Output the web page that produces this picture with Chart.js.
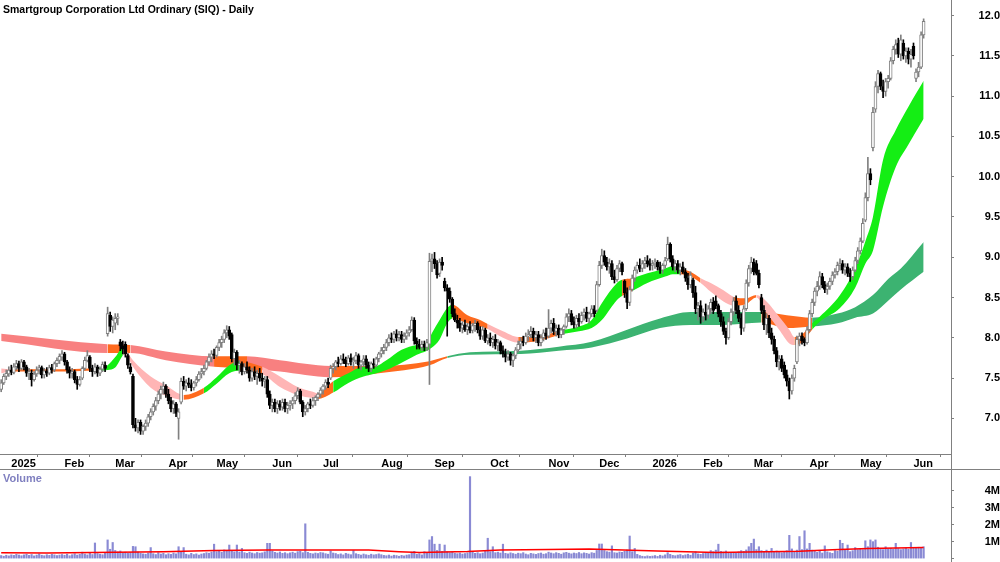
<!DOCTYPE html>
<html>
<head>
<meta charset="utf-8">
<script src="https://cdn.jsdelivr.net/npm/chart.js@4.4.1/dist/chart.umd.min.js"></script>
<style>
    body { margin: 0; background: #fff; }
    #wrap { position: relative; width: 1000px; height: 562px; }
    canvas { position: absolute; left: 0; }
    #price { top: 0; }
    #vol { top: 470px; }
</style>
</head>
<body>
<div id="wrap">
    <canvas id="price" width="1000" height="470"></canvas>
    <canvas id="vol" width="1000" height="92"></canvas>
</div>
<script>
const title = 'Smartgroup Corporation Ltd Ordinary (SIQ) - Daily';

// first trading day of each month (bar index) and its axis label
const monthLabels = ['2025', 'Feb', 'Mar', 'Apr', 'May', 'Jun', 'Jul', 'Aug', 'Sep', 'Oct', 'Nov', 'Dec',
    '2026', 'Feb', 'Mar', 'Apr', 'May', 'Jun'];
const monthStart = [4, 25, 45, 66, 85, 107, 127, 150, 171, 193, 216, 236, 257, 277, 297, 319, 339, 360];
const priceTicks = [7.0, 7.5, 8.0, 8.5, 9.0, 9.5, 10.0, 10.5, 11.0, 11.5, 12.0];
const volumeTicks = [0, 1, 2, 3, 4];

// daily bars: [open, high, low, close]
const ohlc = [
    // Dec 2024
    [7.36,7.48,7.33,7.44],[7.44,7.55,7.42,7.52],[7.52,7.60,7.48,7.56],[7.55,7.64,7.52,7.60],
    // Jan 2025
    [7.60,7.66,7.54,7.57],[7.57,7.68,7.55,7.64],[7.64,7.72,7.60,7.68],[7.68,7.71,7.58,7.62],[7.62,7.73,7.60,7.70],
    [7.70,7.72,7.60,7.64],[7.64,7.66,7.52,7.56],[7.56,7.62,7.48,7.58],[7.56,7.60,7.40,7.48],[7.48,7.58,7.46,7.55],
    [7.55,7.64,7.52,7.60],[7.60,7.66,7.55,7.63],[7.63,7.65,7.50,7.54],[7.54,7.62,7.50,7.59],[7.59,7.63,7.52,7.56],
    [7.56,7.66,7.54,7.63],[7.63,7.67,7.56,7.60],[7.60,7.70,7.58,7.68],[7.68,7.75,7.64,7.72],[7.72,7.80,7.68,7.77],
    [7.76,7.84,7.72,7.80],
    // Feb
    [7.80,7.82,7.66,7.70],[7.70,7.72,7.56,7.60],[7.60,7.64,7.50,7.56],[7.56,7.62,7.50,7.58],[7.58,7.60,7.44,7.48],
    [7.48,7.52,7.36,7.42],[7.42,7.52,7.40,7.48],[7.50,7.64,7.48,7.62],[7.62,7.76,7.60,7.72],[7.72,7.84,7.70,7.78],
    [7.76,7.78,7.58,7.62],[7.62,7.66,7.52,7.58],[7.58,7.68,7.55,7.64],[7.64,7.66,7.52,7.56],[7.56,7.64,7.53,7.61],
    [7.61,7.70,7.58,7.67],[7.66,7.70,7.58,7.62],[8.05,8.38,8.02,8.30],[8.28,8.32,8.08,8.14],[8.14,8.26,8.06,8.22],
    // Mar
    [8.18,8.30,8.10,8.24],[8.24,8.30,8.16,8.26],[7.95,7.98,7.84,7.90],[7.90,7.96,7.80,7.86],[7.92,7.95,7.76,7.80],
    [7.78,7.80,7.62,7.66],[7.64,7.68,7.55,7.58],[7.52,7.55,6.88,6.92],[6.92,7.00,6.84,6.88],[6.88,6.98,6.82,6.95],
    [6.95,6.98,6.80,6.84],[6.84,6.92,6.80,6.90],[6.90,6.98,6.85,6.94],[6.94,7.05,6.90,7.02],[7.02,7.12,6.98,7.08],
    [7.08,7.18,7.04,7.15],[7.15,7.26,7.10,7.22],[7.22,7.34,7.18,7.30],[7.30,7.40,7.24,7.36],[7.36,7.45,7.30,7.40],
    [7.40,7.42,7.26,7.30],
    // Apr
    [7.30,7.36,7.18,7.22],[7.22,7.26,7.08,7.12],[7.12,7.22,7.06,7.18],[7.18,7.20,7.02,7.06],[7.00,7.12,6.74,7.08],
    [7.20,7.50,7.18,7.46],[7.46,7.52,7.36,7.40],[7.40,7.48,7.34,7.44],[7.44,7.50,7.38,7.42],[7.42,7.48,7.34,7.38],
    [7.38,7.46,7.35,7.44],[7.44,7.52,7.40,7.48],[7.48,7.58,7.46,7.55],[7.55,7.62,7.50,7.58],[7.58,7.66,7.54,7.62],
    [7.62,7.72,7.60,7.70],[7.70,7.80,7.66,7.76],[7.76,7.84,7.70,7.80],[7.80,7.86,7.74,7.78],
    // May
    [7.78,7.90,7.76,7.88],[7.88,7.98,7.84,7.94],[7.94,8.02,7.88,7.98],[7.98,8.10,7.94,8.06],[8.06,8.15,8.00,8.10],
    [8.10,8.14,7.98,8.02],[8.04,8.06,7.70,7.74],[7.74,7.86,7.66,7.82],[7.82,7.84,7.60,7.66],[7.66,7.72,7.56,7.68],
    [7.68,7.70,7.54,7.58],[7.58,7.68,7.55,7.64],[7.64,7.70,7.56,7.60],[7.60,7.64,7.46,7.50],[7.50,7.62,7.46,7.58],
    [7.58,7.64,7.48,7.52],[7.52,7.60,7.42,7.56],[7.56,7.62,7.46,7.50],[7.50,7.56,7.40,7.46],[7.46,7.52,7.38,7.48],
    [7.48,7.52,7.26,7.30],[7.30,7.34,7.12,7.16],
    // Jun
    [7.16,7.24,7.08,7.20],[7.20,7.24,7.08,7.12],[7.12,7.22,7.06,7.18],[7.18,7.22,7.10,7.14],[7.14,7.24,7.10,7.20],
    [7.20,7.24,7.08,7.12],[7.12,7.20,7.06,7.16],[7.16,7.22,7.10,7.18],[7.18,7.26,7.12,7.22],[7.22,7.32,7.18,7.28],
    [7.28,7.38,7.24,7.34],[7.34,7.36,7.18,7.20],[7.20,7.22,7.02,7.08],[7.08,7.16,7.04,7.12],[7.12,7.20,7.08,7.18],
    [7.18,7.24,7.12,7.16],[7.16,7.26,7.14,7.22],[7.22,7.28,7.16,7.26],[7.26,7.32,7.22,7.30],[7.30,7.38,7.26,7.35],
    // Jul
    [7.35,7.42,7.30,7.40],[7.40,7.48,7.36,7.45],[7.45,7.50,7.38,7.42],[7.50,7.66,7.48,7.62],[7.62,7.68,7.56,7.64],
    [7.64,7.72,7.60,7.70],[7.70,7.76,7.64,7.68],[7.68,7.78,7.66,7.74],[7.74,7.80,7.68,7.72],[7.72,7.76,7.64,7.68],
    [7.68,7.78,7.66,7.75],[7.75,7.80,7.66,7.70],[7.70,7.76,7.62,7.72],[7.72,7.82,7.68,7.78],[7.78,7.80,7.62,7.66],
    [7.66,7.72,7.60,7.70],[7.70,7.78,7.64,7.74],[7.74,7.78,7.62,7.66],[7.66,7.70,7.58,7.62],[7.62,7.70,7.58,7.68],
    [7.68,7.74,7.62,7.66],[7.66,7.76,7.64,7.74],[7.74,7.82,7.70,7.80],
    // Aug
    [7.80,7.88,7.76,7.84],[7.84,7.92,7.80,7.88],[7.88,7.98,7.84,7.94],[7.94,8.04,7.90,8.00],[8.00,8.06,7.94,7.98],
    [7.98,8.08,7.94,8.05],[8.05,8.10,7.96,8.00],[8.00,8.08,7.96,8.04],[8.04,8.08,7.94,7.98],[7.98,8.06,7.94,8.02],
    [8.02,8.10,7.98,8.06],[8.06,8.14,8.02,8.10],[8.10,8.26,8.08,8.22],[8.22,8.25,7.92,7.96],[7.96,8.00,7.86,7.92],
    [7.92,7.98,7.86,7.88],[7.88,7.96,7.84,7.92],[7.92,7.96,7.84,7.88],[7.88,7.98,7.84,7.94],[7.92,9.05,7.42,8.95],
    [8.95,9.04,8.82,8.98],
    // Sep
    [8.98,9.06,8.86,8.92],[8.92,8.96,8.74,8.78],[8.80,8.98,8.76,8.94],[8.94,9.00,8.84,8.90],[8.70,8.74,8.58,8.62],
    [8.62,8.66,8.02,8.58],[8.58,8.62,8.44,8.48],[8.48,8.50,8.26,8.30],[8.30,8.36,8.20,8.22],[8.22,8.28,8.12,8.18],
    [8.18,8.24,8.08,8.12],[8.12,8.20,8.06,8.16],[8.16,8.22,8.08,8.10],[8.10,8.18,8.04,8.14],[8.14,8.20,8.06,8.09],
    [8.09,8.18,8.06,8.15],[8.15,8.22,8.08,8.18],[8.18,8.20,8.06,8.10],[8.10,8.14,7.98,8.02],[8.02,8.14,7.98,8.10],
    [8.10,8.12,7.94,7.96],[7.96,8.04,7.92,8.00],
    // Oct
    [8.00,8.06,7.90,7.94],[7.94,8.02,7.88,7.98],[7.98,8.04,7.86,7.90],[7.90,7.98,7.84,7.94],[7.94,7.96,7.80,7.84],
    [7.84,7.90,7.76,7.80],[7.80,7.86,7.70,7.76],[7.76,7.84,7.72,7.80],[7.80,7.82,7.66,7.72],[7.72,7.80,7.64,7.78],
    [7.78,7.88,7.74,7.85],[7.85,7.96,7.82,7.92],[7.92,8.00,7.86,7.96],[7.96,8.02,7.90,7.94],[7.94,8.06,7.92,8.02],
    [8.02,8.10,7.96,8.04],[8.04,8.14,8.00,8.08],[8.08,8.12,7.96,8.00],[8.00,8.08,7.94,8.04],[8.04,8.08,7.90,7.94],
    [7.94,8.04,7.90,8.00],[8.00,8.10,7.96,8.06],[8.06,8.12,7.98,8.02],
    // Nov
    [8.02,8.35,8.00,8.12],[8.12,8.22,8.06,8.18],[8.18,8.24,8.04,8.08],[8.08,8.16,8.02,8.12],[8.12,8.16,8.00,8.04],
    [8.04,8.12,8.00,8.10],[8.10,8.16,8.04,8.14],[8.14,8.30,8.12,8.26],[8.26,8.36,8.20,8.30],[8.30,8.34,8.16,8.20],
    [8.20,8.26,8.12,8.16],[8.16,8.28,8.12,8.24],[8.24,8.30,8.14,8.20],[8.20,8.32,8.18,8.28],[8.28,8.36,8.22,8.32],
    [8.32,8.38,8.20,8.24],[8.24,8.32,8.18,8.30],[8.30,8.40,8.26,8.36],[8.36,8.40,8.26,8.30],[8.34,8.70,8.32,8.66],
    // Dec
    [8.66,8.95,8.64,8.90],[8.90,9.10,8.86,9.02],[9.02,9.08,8.90,8.94],[8.94,9.00,8.84,8.88],[8.88,8.98,8.80,8.92],
    [8.92,8.96,8.72,8.76],[8.76,8.84,8.68,8.72],[8.72,8.90,8.70,8.86],[8.86,8.96,8.82,8.92],[8.92,8.94,8.78,8.82],
    [8.70,8.72,8.50,8.56],[8.56,8.62,8.36,8.44],[8.44,8.64,8.40,8.60],[8.60,8.78,8.58,8.74],[8.74,8.88,8.70,8.84],
    [8.84,8.94,8.80,8.90],[8.90,8.98,8.82,8.86],[8.86,8.96,8.82,8.92],[8.92,9.00,8.86,8.96],[8.96,9.02,8.88,8.92],
    [8.92,8.98,8.84,8.90],
    // Jan 2026
    [8.90,8.96,8.84,8.92],[8.92,8.98,8.86,8.94],[8.94,8.96,8.84,8.88],[8.88,8.94,8.80,8.84],[8.84,8.92,8.80,8.90],
    [8.90,9.00,8.86,8.96],[8.98,9.25,8.96,9.16],[9.16,9.18,8.94,8.98],[8.98,9.02,8.84,8.88],[8.88,8.96,8.82,8.92],
    [8.92,8.96,8.80,8.84],[8.84,8.92,8.78,8.88],[8.88,8.94,8.80,8.82],[8.82,8.86,8.70,8.74],[8.74,8.80,8.60,8.66],
    [8.66,8.82,8.62,8.78],[8.72,8.74,8.50,8.56],[8.56,8.64,8.30,8.36],[8.36,8.44,8.22,8.40],[8.40,8.46,8.18,8.26],
    // Feb
    [8.26,8.36,8.20,8.32],[8.32,8.42,8.22,8.28],[8.28,8.40,8.24,8.36],[8.36,8.48,8.30,8.44],[8.44,8.50,8.30,8.34],
    [8.46,8.52,8.36,8.40],[8.40,8.42,8.26,8.30],[8.30,8.34,8.14,8.20],[8.20,8.26,8.04,8.08],[8.08,8.12,7.92,8.00],
    [8.00,8.24,7.98,8.20],[8.20,8.36,8.16,8.32],[8.32,8.50,8.28,8.46],[8.46,8.52,8.30,8.34],[8.34,8.40,8.20,8.24],
    [8.24,8.30,8.04,8.12],[8.12,8.40,8.08,8.36],[8.36,8.72,8.34,8.68],[8.68,8.90,8.64,8.86],[8.86,9.00,8.80,8.94],
    // Mar
    [8.94,8.98,8.78,8.82],[8.92,8.96,8.78,8.80],[8.80,8.84,8.62,8.66],[8.50,8.54,8.30,8.34],[8.34,8.40,8.10,8.16],
    [8.16,8.30,8.04,8.24],[8.24,8.28,8.00,8.06],[8.06,8.12,7.92,7.98],[7.98,8.02,7.80,7.84],[7.84,7.88,7.64,7.70],
    [7.70,7.78,7.60,7.74],[7.74,7.78,7.58,7.62],[7.66,7.70,7.50,7.54],[7.54,7.60,7.40,7.46],[7.46,7.50,7.24,7.34],
    [7.34,7.54,7.30,7.50],[7.50,7.66,7.46,7.62],[7.70,8.02,7.68,7.98],[7.98,8.06,7.90,8.02],[8.02,8.06,7.92,7.96],
    [7.98,8.00,7.90,7.94],[7.94,8.14,7.92,8.10],
    // Apr
    [8.10,8.34,8.08,8.30],[8.30,8.48,8.26,8.44],[8.44,8.62,8.40,8.58],[8.58,8.70,8.52,8.64],[8.64,8.82,8.60,8.76],
    [8.76,8.80,8.62,8.66],[8.66,8.70,8.56,8.60],[8.60,8.68,8.54,8.64],[8.64,8.74,8.60,8.70],[8.70,8.82,8.66,8.78],
    [8.78,8.86,8.74,8.82],[8.82,8.94,8.78,8.90],[8.90,8.98,8.84,8.92],[8.92,8.96,8.80,8.84],[8.84,8.92,8.78,8.88],
    [8.88,8.92,8.76,8.80],[8.80,8.86,8.70,8.76],[8.76,8.88,8.72,8.84],[8.84,9.00,8.82,8.96],[8.96,9.12,8.92,9.08],
    // May
    [9.08,9.24,9.04,9.20],[9.20,9.48,9.18,9.42],[9.46,9.80,9.44,9.74],[9.74,10.24,9.70,10.04],[10.04,10.10,9.90,9.96],
    [10.36,10.86,10.32,10.80],[10.84,11.18,10.80,11.12],[11.12,11.32,11.04,11.28],[11.28,11.30,11.08,11.12],[11.12,11.20,10.98,11.06],
    [11.06,11.22,11.00,11.18],[11.18,11.26,11.10,11.22],[11.22,11.48,11.20,11.44],[11.44,11.62,11.40,11.58],[11.58,11.70,11.52,11.64],
    [11.66,11.72,11.48,11.52],[11.52,11.76,11.44,11.70],[11.66,11.70,11.46,11.50],[11.50,11.60,11.42,11.56],[11.56,11.60,11.40,11.46],
    [11.46,11.58,11.36,11.52],
    // Jun
    [11.62,11.66,11.46,11.50],[11.22,11.34,11.18,11.30],[11.30,11.42,11.24,11.36],[11.36,11.80,11.34,11.76],[11.76,11.96,11.72,11.93]
];

// daily volume, millions of shares
const volume = [
    0.18,0.14,0.20,0.16,
    0.22,0.19,0.25,0.21,0.17,0.22,0.26,0.19,0.24,0.16,0.21,0.28,0.20,0.17,0.23,0.19,0.25,0.22,0.18,0.21,0.24,
    0.20,0.26,0.17,0.23,0.29,0.21,0.25,0.38,0.27,0.22,0.32,0.24,0.92,0.30,0.26,0.23,0.35,1.10,0.55,0.95,
    0.48,0.40,0.45,0.33,0.38,0.31,0.35,0.72,0.70,0.39,0.31,0.28,0.26,0.33,0.65,0.29,0.24,0.35,0.27,0.31,0.23,
    0.29,0.25,0.33,0.28,0.70,0.38,0.65,0.26,0.22,0.31,0.24,0.28,0.21,0.27,0.30,0.35,0.32,0.39,0.85,
    0.41,0.45,0.37,0.51,0.43,0.80,0.48,0.40,0.80,0.39,0.60,0.35,0.31,0.38,0.33,0.29,0.36,0.32,0.34,0.40,0.90,0.90,
    0.45,0.37,0.33,0.39,0.31,0.35,0.29,0.34,0.38,0.32,0.41,0.43,0.35,2.05,0.37,0.31,0.28,0.33,0.30,0.36,
    0.34,0.29,0.26,0.45,0.33,0.30,0.24,0.28,0.22,0.31,0.27,0.23,0.48,0.29,0.25,0.21,0.27,0.23,0.20,0.26,0.22,0.24,0.28,
    0.23,0.19,0.17,0.21,0.15,0.20,0.18,0.14,0.19,0.16,0.21,0.23,0.38,0.43,0.25,0.29,0.22,0.41,0.33,1.10,1.30,
    0.85,0.48,0.85,0.43,0.80,0.41,0.35,0.38,0.31,0.29,0.33,0.27,0.30,0.34,4.83,0.38,0.31,0.35,0.29,0.33,0.45,1.20,
    0.41,0.70,0.35,0.38,0.33,0.85,0.31,0.28,0.34,0.30,0.26,0.32,0.29,0.35,0.27,0.23,0.31,0.28,0.25,0.30,0.33,0.26,0.29,
    0.38,0.33,0.29,0.35,0.31,0.26,0.34,0.37,0.32,0.28,0.33,0.30,0.36,0.29,0.34,0.31,0.27,0.35,0.32,0.48,
    0.86,0.86,0.48,0.41,0.38,0.75,0.35,0.33,0.39,0.37,0.43,0.51,1.33,0.41,0.60,0.25,0.18,0.14,0.12,0.16,0.13,
    0.15,0.18,0.13,0.20,0.16,0.22,0.35,0.25,0.19,0.17,0.21,0.24,0.18,0.22,0.26,0.20,0.33,0.40,0.28,0.25,
    0.30,0.37,0.33,0.47,0.41,0.50,0.85,0.43,0.39,0.45,0.35,0.31,0.37,0.33,0.40,0.47,0.43,0.51,0.70,0.90,
    1.15,0.53,0.70,0.47,0.43,0.50,0.40,0.60,0.37,0.45,0.41,0.35,0.39,0.47,1.37,0.57,0.43,0.50,1.30,0.53,1.64,0.57,
    0.90,0.50,0.43,0.37,0.45,0.33,0.75,0.40,0.35,0.31,0.47,0.43,1.08,0.90,0.50,0.80,0.41,0.47,0.65,0.53,
    0.57,0.53,1.05,0.70,1.10,1.00,1.10,0.67,0.60,0.53,0.70,0.57,0.61,0.55,0.90,0.59,0.53,0.57,0.63,0.55,0.95,
    0.65,0.61,0.67,0.63,0.70
];

// volume average line, read at a few bars
const volAvgIdx = [0, 18, 36, 64, 84, 105, 145, 157, 165, 184, 197, 216, 232, 259, 282, 315, 328, 342, 364];
const volAvg = [0.35, 0.33, 0.36, 0.40, 0.48, 0.51, 0.50, 0.41, 0.36, 0.42, 0.51, 0.54, 0.57, 0.45, 0.36, 0.44, 0.52, 0.60, 0.65];

// short-term average ribbon: edges read at these bars, state of the segment that follows
const shortIdx = [0, 4, 14, 24, 34, 36, 42, 45, 48, 49, 52, 59, 65, 72, 80, 85, 90, 94, 103, 110,
    117, 123, 125, 131, 137, 143, 147, 152, 158, 164, 168, 170, 173, 176, 178, 184, 189, 192, 198, 204,
    212, 221, 228, 233, 237, 243, 245, 249, 255, 262, 265, 268, 272, 276, 280, 285, 289, 294, 298, 302,
    307, 311, 313, 316, 320, 323, 331, 337, 341, 344, 348, 353, 358, 364];
const shortHi = [7.62, 7.61, 7.61, 7.61, 7.62, 7.62, 7.66, 7.76, 7.87, 7.85, 7.72, 7.52, 7.41, 7.29, 7.38, 7.51, 7.66, 7.71, 7.64, 7.52,
    7.39, 7.33, 7.31, 7.46, 7.56, 7.64, 7.64, 7.72, 7.85, 7.91, 7.94, 8.06, 8.22, 8.37, 8.41, 8.28, 8.22, 8.17, 8.08, 8.01,
    8.02, 8.09, 8.14, 8.22, 8.43, 8.68, 8.72, 8.74, 8.80, 8.86, 8.89, 8.86, 8.82, 8.74, 8.68, 8.59, 8.51, 8.49, 8.53, 8.45,
    8.26, 8.10, 8.01, 8.04, 8.18, 8.26, 8.53, 8.86, 9.20, 9.50, 10.21, 10.58, 10.87, 11.19];
const shortLo = [7.56, 7.58, 7.58, 7.58, 7.59, 7.59, 7.60, 7.63, 7.78, 7.80, 7.64, 7.38, 7.28, 7.23, 7.31, 7.43, 7.56, 7.59, 7.55, 7.39,
    7.29, 7.25, 7.24, 7.32, 7.44, 7.52, 7.55, 7.60, 7.69, 7.79, 7.84, 7.88, 7.98, 8.18, 8.24, 8.18, 8.14, 8.11, 8.00, 7.94,
    7.96, 8.04, 8.08, 8.12, 8.22, 8.47, 8.52, 8.58, 8.68, 8.76, 8.79, 8.79, 8.76, 8.68, 8.57, 8.45, 8.40, 8.42, 8.50, 8.31,
    8.10, 7.93, 7.91, 7.94, 8.10, 8.20, 8.37, 8.62, 8.92, 9.08, 9.63, 10.12, 10.40, 10.72];
const shortState = ['down', 'mix', 'mix', 'mix', 'mix', 'up', 'up', 'up', 'down', 'down', 'down', 'down', 'down', 'mix', 'up', 'up', 'up', 'mix', 'down', 'down',
    'down', 'down', 'mix', 'up', 'up', 'up', 'up', 'up', 'up', 'up', 'up', 'up', 'up', 'up', 'mix', 'mix', 'mix', 'down', 'down', 'mix',
    'mix', 'up', 'up', 'up', 'up', 'up', 'mix', 'up', 'up', 'up', 'up', 'mix', 'mix', 'down', 'down', 'down', 'mix', 'mix', 'down', 'down',
    'down', 'down', 'mix', 'mix', 'up', 'up', 'up', 'up', 'up', 'up', 'up', 'up', 'up', 'up'];

// long-term average ribbon
const longIdx = [0, 42, 51, 65, 84, 97, 110, 130, 149, 169, 176, 185, 205, 220, 233, 247, 260, 272, 285, 300,
    310, 320, 330, 337, 344, 350, 355, 364];
const longHi = [8.05, 7.92, 7.91, 7.83, 7.77, 7.77, 7.72, 7.65, 7.65, 7.71, 7.77, 7.82, 7.84, 7.89, 7.95, 8.10, 8.24, 8.32, 8.32, 8.32,
    8.28, 8.25, 8.30, 8.38, 8.53, 8.73, 8.86, 9.19];
const longLo = [7.96, 7.81, 7.81, 7.72, 7.64, 7.62, 7.58, 7.51, 7.56, 7.66, 7.75, 7.79, 7.80, 7.84, 7.88, 7.99, 8.12, 8.16, 8.16, 8.19,
    8.12, 8.14, 8.18, 8.25, 8.30, 8.46, 8.60, 8.82];
const longState = ['down', 'mix', 'down', 'down', 'mix', 'down', 'down', 'mix', 'mix', 'mix', 'up', 'up', 'up', 'up', 'up', 'up', 'up', 'up', 'up', 'mix',
    'mix', 'up', 'up', 'up', 'up', 'up', 'up', 'up'];

const X_MIN = -0.47;
const X_MAX = 374.8;
const FONT = "'Liberation Sans', Arial, sans-serif";
const GREY = '#808080';
const shortColours = {up: '#14ee14', mix: '#ff6a1e', down: '#ffb5b5'};
const longColours = {up: '#3cb371', mix: '#ff6a1e', down: '#f88080'};

const toPoints = (idx, vals) => idx.map((x, k) => ({x: x, y: vals[k]}));
const isUp = i => !ohlc[i] || ohlc[i][3] >= ohlc[i][0];

/**
 * Two invisible lines with the gap between them filled, coloured per segment.
 */
function ribbon(idx, lo, hi, state, colours) {
    const base = {
        type: 'line',
        pointRadius: 0,
        borderWidth: 0,
        borderColor: 'rgba(0,0,0,0)',
        cubicInterpolationMode: 'monotone'
    };
    return [
        Object.assign({}, base, {data: toPoints(idx, lo), fill: false}),
        Object.assign({}, base, {
            data: toPoints(idx, hi),
            fill: '-1',
            backgroundColor: colours.up,
            segment: {backgroundColor: c => colours[state[c.p0DataIndex]]}
        })
    ];
}

function rightAxis(min, max, ticks, padding, label) {
    return {
        position: 'right',
        min: min,
        max: max,
        afterBuildTicks: axis => { axis.ticks = ticks.map(v => ({value: v})); },
        afterFit: axis => {
            axis.width = 49;
            axis.paddingTop = 0;
            axis.paddingBottom = 0;
        },
        grid: {drawOnChartArea: false, tickLength: 3, color: GREY},
        border: {color: GREY},
        ticks: {
            crossAlign: 'far',
            padding: padding,
            color: '#000',
            font: {family: FONT, size: 11, weight: 'bold'},
            callback: label
        }
    };
}

const frame = {
    id: 'frame',
    afterDraw(chart) {
        const ctx = chart.ctx;
        const x = Math.round(chart.chartArea.right) + 0.5;
        ctx.save();
        ctx.strokeStyle = GREY;
        ctx.lineWidth = 1;
        ctx.beginPath();
        ctx.moveTo(x, 0);
        ctx.lineTo(x, chart.height);
        if (chart.canvas.id === 'price') {
            ctx.moveTo(0, chart.height - 0.5);
            ctx.lineTo(chart.width, chart.height - 0.5);
        }
        ctx.stroke();
        ctx.restore();
    }
};

function caption(text, colour, y, size) {
    return {
        id: 'caption',
        afterDraw(chart) {
            const ctx = chart.ctx;
            ctx.save();
            ctx.font = 'bold ' + size + 'px ' + FONT;
            ctx.fillStyle = colour;
            ctx.textBaseline = 'alphabetic';
            ctx.fillText(text, 3, y);
            ctx.restore();
        }
    };
}

new Chart(document.getElementById('price'), {
    type: 'bar',
    data: {
        datasets: [
            {
                data: ohlc.map((b, i) => ({x: i, y: [b[0], b[3]]})),
                grouped: false,
                barThickness: 3,
                minBarLength: 1,
                borderWidth: 1,
                borderSkipped: false,
                backgroundColor: c => isUp(c.dataIndex) ? '#ffffff' : '#000000',
                borderColor: c => isUp(c.dataIndex) ? GREY : '#000000'
            },
            {
                data: ohlc.map((b, i) => ({x: i, y: [b[2], b[1]]})),
                grouped: false,
                barThickness: 1,
                backgroundColor: c => isUp(c.dataIndex) ? GREY : '#000000'
            },
            ...ribbon(shortIdx, shortLo, shortHi, shortState, shortColours),
            ...ribbon(longIdx, longLo, longHi, longState, longColours)
        ]
    },
    options: {
        responsive: false,
        animation: false,
        devicePixelRatio: 1,
        events: [],
        layout: {padding: 0},
        plugins: {legend: {display: false}, tooltip: {enabled: false}},
        scales: {
            x: {
                type: 'linear',
                min: X_MIN,
                max: X_MAX,
                offset: false,
                afterBuildTicks: axis => { axis.ticks = monthStart.map(v => ({value: v})); },
                afterFit: axis => {
                    axis.height = 16;
                    axis.paddingLeft = 0;
                    axis.paddingRight = 0;
                },
                grid: {drawOnChartArea: false, tickLength: 3, color: GREY},
                border: {color: GREY},
                ticks: {
                    align: 'start',
                    autoSkip: false,
                    maxRotation: 0,
                    padding: 0,
                    color: '#000',
                    font: {family: FONT, size: 11, weight: 'bold'},
                    callback: v => monthLabels[monthStart.indexOf(v)]
                }
            },
            y: rightAxis(6.557, 12.194, priceTicks, 21, v => v.toFixed(1))
        }
    },
    plugins: [frame, caption(title, '#000', 12.5, 10.5)]
});

new Chart(document.getElementById('vol'), {
    type: 'bar',
    data: {
        datasets: [
            {
                type: 'line',
                data: toPoints(volAvgIdx, volAvg),
                borderColor: '#ff0000',
                borderWidth: 1.5,
                pointRadius: 0,
                fill: false
            },
            {
                data: volume.map((v, i) => ({x: i, y: v})),
                grouped: false,
                barThickness: 1.5,
                backgroundColor: '#8a8ad4'
            }
        ]
    },
    options: {
        responsive: false,
        animation: false,
        devicePixelRatio: 1,
        events: [],
        layout: {padding: 0},
        plugins: {legend: {display: false}, tooltip: {enabled: false}},
        scales: {
            x: {type: 'linear', min: X_MIN, max: X_MAX, offset: false, display: false},
            y: rightAxis(-0.2, 5.22, volumeTicks, 27, v => v ? v + 'M' : '')
        }
    },
    plugins: [frame, caption('Volume', '#8080c0', 11.5, 11)]
});
</script>
</body>
</html>
